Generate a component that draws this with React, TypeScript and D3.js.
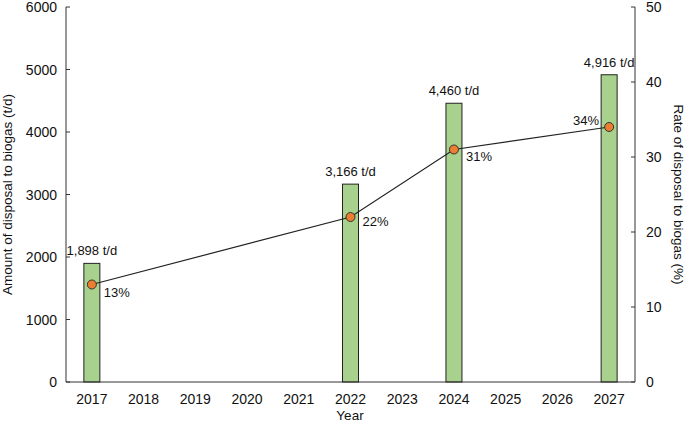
import React from "react";
import * as d3 from "d3";

const years = ["2017","2018","2019","2020","2021","2022","2023","2024","2025","2026","2027"];
const barYears = ["2017","2022","2024","2027"];
const amounts = [1898, 3166, 4460, 4916];
const rates = [13, 22, 31, 34];
const leftTicks = [0,1000,2000,3000,4000,5000,6000];
const rightTicks = [0,10,20,30,40,50];

const W = 685, H = 424;
const L = 66, R = 635, T = 7, B = 382;

export default function App() {
  const x = d3.scaleBand().domain(years).range([L, R]).padding(0);
  const yL = d3.scaleLinear().domain([0, 6000]).range([B, T]);
  const yR = d3.scaleLinear().domain([0, 50]).range([B, T]);
  const bw = 16;
  const cx = (yr: string) => (x(yr) as number) + x.bandwidth() / 2;
  const line = d3.line<number>().x((_, i) => cx(barYears[i])).y(d => yR(d));
  const fmt = d3.format(",");
  const font = "Liberation Sans, Arial, sans-serif";
  const pctOff = [[12, 8, "start"], [12, 5, "start"], [12, 7, "start"], [-10, -6, "end"]] as const;
  return (
    <svg width={W} height={H} style={{ position: "absolute", left: 0, top: 0 }} fontFamily={font}>
      <rect width={W} height={H} fill="#fff" />
      {barYears.map((yr, i) => (
        <g key={yr}>
          <rect x={cx(yr) - bw / 2} y={yL(amounts[i])} width={bw} height={B - yL(amounts[i])}
            fill="#a9d18e" stroke="#222" strokeWidth={1} />
          <text x={cx(yr)} y={yL(amounts[i]) - 8} textAnchor="middle" fontSize={13} fill="#111">
            {fmt(amounts[i])} t/d
          </text>
        </g>
      ))}
      <path d={line(rates) || ""} fill="none" stroke="#222" strokeWidth={1.2} />
      {rates.map((r, i) => (
        <g key={i}>
          <circle cx={cx(barYears[i])} cy={yR(r)} r={4.5} fill="#ed7d31" stroke="#333" strokeWidth={1} />
          <text x={cx(barYears[i]) + pctOff[i][0]} y={yR(r) + pctOff[i][1] + 4} textAnchor={pctOff[i][2]}
            fontSize={13} fill="#111">{r}%</text>
        </g>
      ))}
      <line x1={L} x2={L} y1={T} y2={B} stroke="#333" />
      <line x1={R} x2={R} y1={T} y2={B} stroke="#333" />
      <line x1={L} x2={R} y1={B} y2={B} stroke="#333" />
      {leftTicks.map(t => (
        <g key={t}>
          <line x1={L} x2={L + 4} y1={yL(t)} y2={yL(t)} stroke="#333" />
          <text x={L - 9} y={yL(t) + 5} textAnchor="end" fontSize={14} fill="#111">{t}</text>
        </g>
      ))}
      {rightTicks.map(t => (
        <g key={t}>
          <line x1={R - 4} x2={R} y1={yR(t)} y2={yR(t)} stroke="#333" />
          <text x={R + 11} y={yR(t) + 5} textAnchor="start" fontSize={14} fill="#111">{t}</text>
        </g>
      ))}
      {years.map(yr => (
        <text key={yr} x={cx(yr)} y={404} textAnchor="middle" fontSize={14} fill="#111">{yr}</text>
      ))}
      <text x={350} y={420} textAnchor="middle" fontSize={13.5} fill="#111">Year</text>
      <text transform={`translate(12,${(T + B) / 2}) rotate(-90)`} textAnchor="middle" fontSize={13.5} fill="#111">
        Amount of disposal to biogas (t/d)
      </text>
      <text transform={`translate(674,${(T + B) / 2}) rotate(90)`} textAnchor="middle" fontSize={13.5} fill="#111">
        Rate of disposal to biogas (%)
      </text>
    </svg>
  );
}
